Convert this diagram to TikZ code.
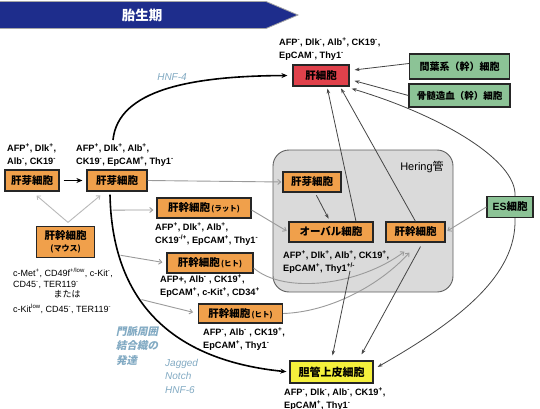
\documentclass[tikz,border=0pt]{standalone}
\usepackage{fontspec}
\setmainfont{Liberation Sans}
\newfontfamily\jp{Noto Sans CJK JP}
\newfontfamily\jpsl{Noto Sans CJK JP}[FakeSlant=0.2]
\usetikzlibrary{arrows.meta}
\definecolor{orng}{HTML}{F0A04B}
\definecolor{hred}{HTML}{E0414B}
\definecolor{grn}{HTML}{8CC396}
\definecolor{ylw}{HTML}{F5F03C}
\definecolor{navy}{HTML}{1E2D8C}
\definecolor{hgray}{HTML}{DADADA}
\definecolor{ltblue}{HTML}{82AAC3}
\definecolor{conn}{HTML}{9A9A9A}
\definecolor{dconn}{HTML}{454545}
\newcommand\supx[1]{\textsuperscript{#1}}
\newcommand\smallpar[1]{{\fontsize{7.5}{9}\selectfont\,(#1)}}
\begin{document}
\begin{tikzpicture}[x=1pt,y=-1pt,
  cell/.style={draw=black!85, line width=1.2pt, inner sep=0pt, align=center, font=\jp\bfseries\fontsize{10.5}{12}\selectfont},
  ocell/.style={cell, fill=orng},
  lab/.style={anchor=north west, inner sep=0pt, align=left, font=\bfseries\fontsize{9.2}{12.5}\selectfont},
  note/.style={inner sep=0pt, text=ltblue, align=left, anchor=north west},
  garrow/.style={draw=conn, line width=0.9pt, -{Straight Barb[length=3pt,width=5pt]}},
  darrow/.style={draw=dconn, line width=0.8pt, -{Stealth[length=5pt,width=3.5pt]}},
  barrow/.style={draw=black, line width=1.6pt, -{Stealth[length=6pt,width=5pt]}}]
\useasboundingbox (0,0) rectangle (540,409);
\fill[white] (0,0) rectangle (540,409);

% banner
\draw[fill=navy, draw=gray!70, line width=0.8pt] (-1,1.5) -- (266,1.5) -- (298,15) -- (266,28.5) -- (-1,28.5) -- cycle;
\node[text=white, font=\jp\bfseries\fontsize{13.5}{15}\selectfont, inner sep=0pt] (period) at (142,15) {胎生期};

% Hering canal
\node[draw=gray!75!black, fill=hgray, line width=0.9pt, rounded corners=16pt, minimum width=180, minimum height=142, inner sep=0pt] (hering) at (363,221) {};
\node[inner sep=0pt, font=\fontsize{11}{13}\selectfont] (heringlab) at (422,167) {Hering{\jp 管}};

% cells
\node[ocell, minimum width=54, minimum height=21] (hb1) at (32,180.5) {肝芽細胞};
\node[ocell, minimum width=60, minimum height=21] (hb2) at (117,180.5) {肝芽細胞};
\node[ocell, minimum width=58, minimum height=31] (mouse) at (65.5,242) {肝幹細胞\\{\fontsize{8}{10}\selectfont (マウス)}};
\node[ocell, minimum width=94, minimum height=20] (rat) at (204,208) {肝幹細胞\smallpar{ラット}};
\node[ocell, minimum width=86, minimum height=20] (h1) at (210,263) {肝幹細胞\smallpar{ヒト}};
\node[ocell, minimum width=84, minimum height=19] (h2) at (240.5,313.5) {肝幹細胞\smallpar{ヒト}};
\node[ocell, minimum width=58, minimum height=20] (hbH) at (312,182) {肝芽細胞};
\node[ocell, minimum width=84, minimum height=20] (oval) at (331,232) {オーバル細胞};
\node[ocell, minimum width=59, minimum height=20] (skH) at (415.5,232) {肝幹細胞};
\node[cell, fill=grn, minimum width=46, minimum height=21] (es) at (510,207) {{\rmfamily ES}細胞};
\node[cell, fill=hred, minimum width=56, minimum height=21] (hep) at (321,75.5) {肝細胞};
\node[cell, fill=grn, minimum width=100, minimum height=25, font=\jp\bfseries\fontsize{10}{12}\selectfont] (mes) at (459.5,66.5) {間葉系（幹）細胞};
\node[cell, fill=grn, minimum width=101, minimum height=23, font=\jp\bfseries\fontsize{9.5}{12}\selectfont] (bm) at (459.5,95.5) {骨髄造血（幹）細胞};
\node[cell, fill=ylw, minimum width=83, minimum height=22, font=\jp\bfseries\fontsize{11}{12}\selectfont] (bile) at (331.5,372) {胆管上皮細胞};

% marker labels
\node[lab] (hepL) at (279,38) {AFP\supx{-}, Dlk\supx{-}, Alb\supx{+}, CK19\supx{-},\\EpCAM\supx{-}, Thy1\supx{-}};
\node[lab] (hb1L) at (7,144) {AFP\supx{+}, Dlk\supx{+},\\Alb\supx{-}, CK19\supx{-}};
\node[lab] (hb2L) at (76,144) {AFP\supx{+}, Dlk\supx{+}, Alb\supx{+},\\CK19\supx{-}, EpCAM\supx{+}, Thy1\supx{-}};
\node[lab] (ratL) at (155,223) {AFP\supx{+}, Dlk\supx{+}, Alb\supx{+},\\CK19\supx{-/+}, EpCAM\supx{+}, Thy1\supx{-}};
\node[lab] (h1L) at (160,275) {AFP+, Alb\supx{-} , CK19\supx{+},\\EpCAM\supx{+}, c-Kit\supx{+}, CD34\supx{+}};
\node[lab] (h2L) at (203,328) {AFP\supx{-}, Alb\supx{-} , CK19\supx{+},\\EpCAM\supx{+}, Thy1\supx{-}};
\node[lab] (ovalL) at (283,251) {AFP\supx{+}, Dlk\supx{+}, Alb\supx{+}, CK19\supx{+},\\EpCAM\supx{+}, Thy1\supx{+/-}};
\node[lab] (bileL) at (284,388) {AFP\supx{-}, Dlk\supx{-}, Alb\supx{-}, CK19\supx{+},\\EpCAM\supx{+}, Thy1\supx{-}};
\node[inner sep=0pt, anchor=north west, align=left, font=\fontsize{9}{11}\selectfont] (mtxt) at (13,268) {c-Met\supx{+}, CD49f\supx{+/low}, c-Kit\supx{-},\\CD45\supx{-}, TER119\supx{-}};
\node[inner sep=0pt, font=\jp\fontsize{9}{11}\selectfont] (mataha) at (67,294) {または};
\node[inner sep=0pt, anchor=west, font=\fontsize{9}{11}\selectfont] (mtxt2) at (13,309) {c-Kit\supx{low}, CD45\supx{-}, TER119\supx{-}};

% notes
\node[note, anchor=center, font=\itshape\fontsize{10}{12}\selectfont] (hnf4) at (172,77) {HNF-4};
\node[note, font=\jpsl\bfseries\fontsize{10.5}{14.5}\selectfont] (portal) at (116,326) {門脈周囲\\結合織の\\発達};
\node[note, font=\itshape\fontsize{10}{13.5}\selectfont] (jag) at (165,359) {Jagged\\Notch\\HNF-6};

% connectors
\coordinate (hnfstart) at (113,140);
\draw[barrow, shorten >=5pt] (hnfstart) .. controls (118,90) and (190,76) .. (hep.west);
\draw[barrow, shorten <=4pt, shorten >=4pt] (hb1.east) -- (hb2.west);
\draw[garrow, shorten >=1pt] (hb2.east) -- (hbH.west);
\draw[garrow, draw=gray!55, shorten >=6pt] ([shift={(2.5,-3.5)}]mouse.north) -- (hb1.south);
\draw[garrow, draw=gray!55, shorten >=6pt] ([shift={(2.5,-3.5)}]mouse.north) -- ([xshift=-12]hb2.south);
\draw[barrow, shorten >=3pt] ([shift={(-7,3)}]hb2.south) .. controls (112,300) and (170,360) .. (bile.west)
  coordinate[pos=0.05] (br1) coordinate[pos=0.21] (br2) coordinate[pos=0.4] (br3);
\draw[garrow, shorten <=2pt, shorten >=3pt] (br1) -- ([yshift=-2]rat.west);
\draw[garrow, shorten <=2pt, shorten >=4pt] (br2) -- (h1.west);
\draw[garrow, shorten <=2pt, shorten >=5pt] (br3) -- (h2.west);
\draw[garrow, shorten >=2pt] ([yshift=-2]rat.east) -- (oval.west);
\draw[garrow] ([yshift=-5]h1.east) .. controls (285,295) and (360,285) .. ([shift={(19,9)}]skH.south west);
\draw[garrow] (h2.east) .. controls (330,312) and (380,285) .. ([shift={(24,10)}]skH.south west);
\draw[darrow, shorten <=3pt, shorten >=3pt] ([xshift=3]hbH.south) -- ([xshift=-1]oval.north);
\draw[darrow, shorten >=2pt] ([xshift=25]oval.north) -- ([xshift=6]hep.south);
\draw[darrow, shorten >=2pt] (skH.north) -- ([xshift=19]hep.south);
\draw[darrow] ([xshift=5]es.north) .. controls (517,160) and (440,115) .. ([shift={(2,2)}]hep.south east);
\draw[garrow, shorten >=2pt] (es.west) -- (skH.east);
\draw[darrow] ([xshift=5]es.south) .. controls (517,275) and (460,320) .. ([shift={(4,-5)}]bile.east);
\draw[darrow, shorten >=5pt] ([yshift=3]mes.west) -- ([yshift=5]hep.east);
\draw[darrow, shorten >=5pt] (bm.west) -- ([yshift=-4]hep.east);
\coordinate (ovalLb) at (350,271);
\draw[darrow] (ovalLb) -- ([shift={(1,-5)}]bile.north);
\draw[darrow] ([shift={(5,4)}]skH.south) -- ([shift={(30,-6)}]bile.north);
\end{tikzpicture}
\end{document}
